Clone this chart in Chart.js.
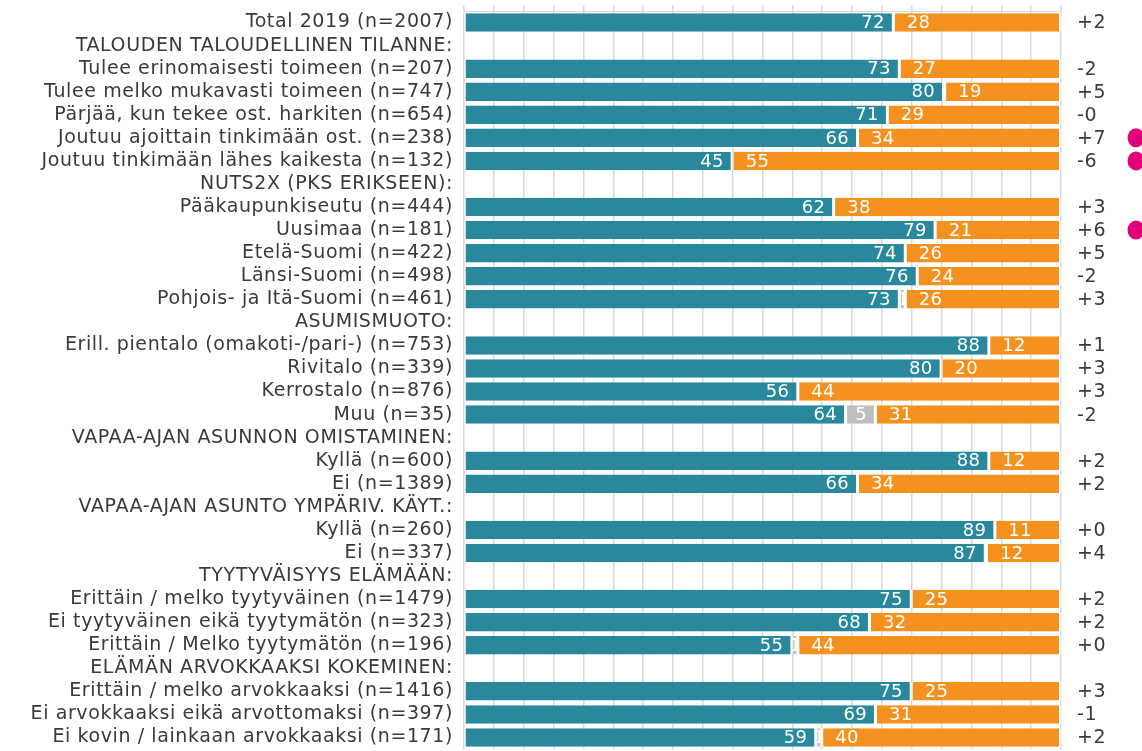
<!DOCTYPE html>
<html>
<head>
<meta charset="utf-8">
<script src="https://cdn.jsdelivr.net/npm/chart.js@4"></script>
<style>
html,body{margin:0;padding:0;background:#fff;}
#wrap{width:1142px;height:751px;position:relative;}
</style>
</head>
<body>
<div id="wrap"><canvas id="c" width="1142" height="751"></canvas></div>
<script>
const categories = [
  "Total 2019 (n=2007)",
  "TALOUDEN TALOUDELLINEN TILANNE:",
  "Tulee erinomaisesti toimeen (n=207)",
  "Tulee melko mukavasti toimeen (n=747)",
  "Pärjää, kun tekee ost. harkiten (n=654)",
  "Joutuu ajoittain tinkimään ost. (n=238)",
  "Joutuu tinkimään lähes kaikesta (n=132)",
  "NUTS2X (PKS ERIKSEEN):",
  "Pääkaupunkiseutu (n=444)",
  "Uusimaa (n=181)",
  "Etelä-Suomi (n=422)",
  "Länsi-Suomi (n=498)",
  "Pohjois- ja Itä-Suomi (n=461)",
  "ASUMISMUOTO:",
  "Erill. pientalo (omakoti-/pari-) (n=753)",
  "Rivitalo (n=339)",
  "Kerrostalo (n=876)",
  "Muu (n=35)",
  "VAPAA-AJAN ASUNNON OMISTAMINEN:",
  "Kyllä (n=600)",
  "Ei (n=1389)",
  "VAPAA-AJAN ASUNTO YMPÄRIV. KÄYT.:",
  "Kyllä (n=260)",
  "Ei (n=337)",
  "TYYTYVÄISYYS ELÄMÄÄN:",
  "Erittäin / melko tyytyväinen (n=1479)",
  "Ei tyytyväinen eikä tyytymätön (n=323)",
  "Erittäin / Melko tyytymätön (n=196)",
  "ELÄMÄN ARVOKKAAKSI KOKEMINEN:",
  "Erittäin / melko arvokkaaksi (n=1416)",
  "Ei arvokkaaksi eikä arvottomaksi (n=397)",
  "Ei kovin / lainkaan arvokkaaksi (n=171)"
];
const agree     = [72, null, 73, 80.4, 71, 66, 45, null, 62, 79, 74, 76, 73, null, 88, 80, 56, 64, null, 88, 66, null, 89, 87.4, null, 75, 68, 55, null, 75, 69, 59];
const dontKnow  = [0, null, 0, 0.2, 0, 0, 0, null, 0, 0, 0, 0, 1, null, 0, 0, 0, 5, null, 0, 0, null, 0, 0.2, null, 0, 0, 1, null, 0, 0, 1];
const disagree  = [28, null, 27, 19.4, 29, 34, 55, null, 38, 21, 26, 24, 26, null, 12, 20, 44, 31, null, 12, 34, null, 11, 12.4, null, 25, 32, 44, null, 25, 31, 40];
const changes   = ["+2", "", "-2", "+5", "-0", "+7", "-6", "", "+3", "+6", "+5", "-2", "+3", "", "+1", "+3", "+3", "-2", "", "+2", "+2", "", "+0", "+4", "", "+2", "+2", "+0", "", "+3", "-1", "+2"];
const significant = [false, false, false, false, false, true, true, false, false, true, false, false, false, false, false, false, false, false, false, false, false, false, false, false, false, false, false, false, false, false, false, false];

const TEAL = '#2a889d', GRAY = '#bfbfbf', ORANGE = '#f5921f', PINK = '#e2007a', TEXT = '#3a3a3a';
const FONT = '"DejaVu Sans", Verdana, sans-serif';

const spacingPlugin = {
  id: 'spacing',
  beforeDraw(chart) { chart.ctx.letterSpacing = '0.6px'; }
};

const labelPlugin = {
  id: 'labels',
  afterDatasetsDraw(chart) {
    const ctx = chart.ctx;
    ctx.save();
    ctx.letterSpacing = '0.3px';
    ctx.font = '18px ' + FONT;
    ctx.textBaseline = 'middle';
    ctx.fillStyle = '#ffffff';
    chart.data.datasets.forEach((ds, di) => {
      const meta = chart.getDatasetMeta(di);
      meta.data.forEach((el, i) => {
        const v = ds.data[i];
        if (v == null || v < 0.5) return;
        const txt = String(Math.round(v));
        const p = el.getProps(['x', 'y', 'base'], true);
        if (di === 0) { ctx.textAlign = 'right'; ctx.fillText(txt, p.x - 9, p.y + 1); }
        else if (di === 1) { ctx.textAlign = 'center'; ctx.fillText(txt, (p.x + p.base) / 2, p.y + 1); }
        else { ctx.textAlign = 'left'; ctx.fillText(txt, p.base + 13, p.y + 1); }
      });
    });
    const yScale = chart.scales.y;
    const area = chart.chartArea;
    ctx.letterSpacing = '0.6px';
    ctx.font = '19px ' + FONT;
    ctx.fillStyle = TEXT;
    ctx.textAlign = 'left';
    changes.forEach((c, i) => {
      const y = yScale.getPixelForValue(i);
      if (c) ctx.fillText(c, area.right + 16, y + 1);
      if (significant[i]) {
        ctx.beginPath();
        ctx.fillStyle = PINK;
        ctx.ellipse(area.right + 75, y, 8.5, 9.5, 0, 0, Math.PI * 2);
        ctx.fill();
        ctx.fillStyle = TEXT;
      }
    });
    ctx.restore();
  }
};

new Chart(document.getElementById('c'), {
  type: 'bar',
  data: {
    labels: categories,
    datasets: [
      { label: 'Kyllä', data: agree, backgroundColor: TEAL },
      { label: 'EOS', data: dontKnow, backgroundColor: GRAY },
      { label: 'Ei', data: disagree, backgroundColor: ORANGE }
    ]
  },
  options: {
    indexAxis: 'y',
    responsive: false,
    animation: false,
    devicePixelRatio: 1,
    layout: { padding: { top: 0, right: 81, bottom: 2, left: 0 } },
    datasets: {
      bar: {
        barPercentage: 0.8,
        categoryPercentage: 1,
        borderColor: '#ffffff',
        borderWidth: { left: 1, right: 2, top: 0, bottom: 0 },
        borderSkipped: false
      }
    },
    plugins: { legend: { display: false }, tooltip: { enabled: false } },
    scales: {
      x: {
        position: 'top',
        stacked: true,
        min: 0, max: 100,
        ticks: { display: false, stepSize: 5 },
        grid: { color: '#d9d9d9', lineWidth: 1.5, tickLength: 6, drawTicks: true },
        border: { display: true, color: '#d9d9d9', width: 1 },
        afterFit(scale) { scale.height = 11; scale.paddingLeft = 0; scale.paddingRight = 0; }
      },
      y: {
        stacked: true,
        grid: { display: false },
        border: { display: false },
        ticks: { color: TEXT, font: { family: FONT, size: 19 }, padding: 3, autoSkip: false },
        afterFit(scale) { scale.width = 464; scale.paddingTop = 0; scale.paddingBottom = 0; }
      }
    }
  },
  plugins: [spacingPlugin, labelPlugin]
});
</script>
</body>
</html>
